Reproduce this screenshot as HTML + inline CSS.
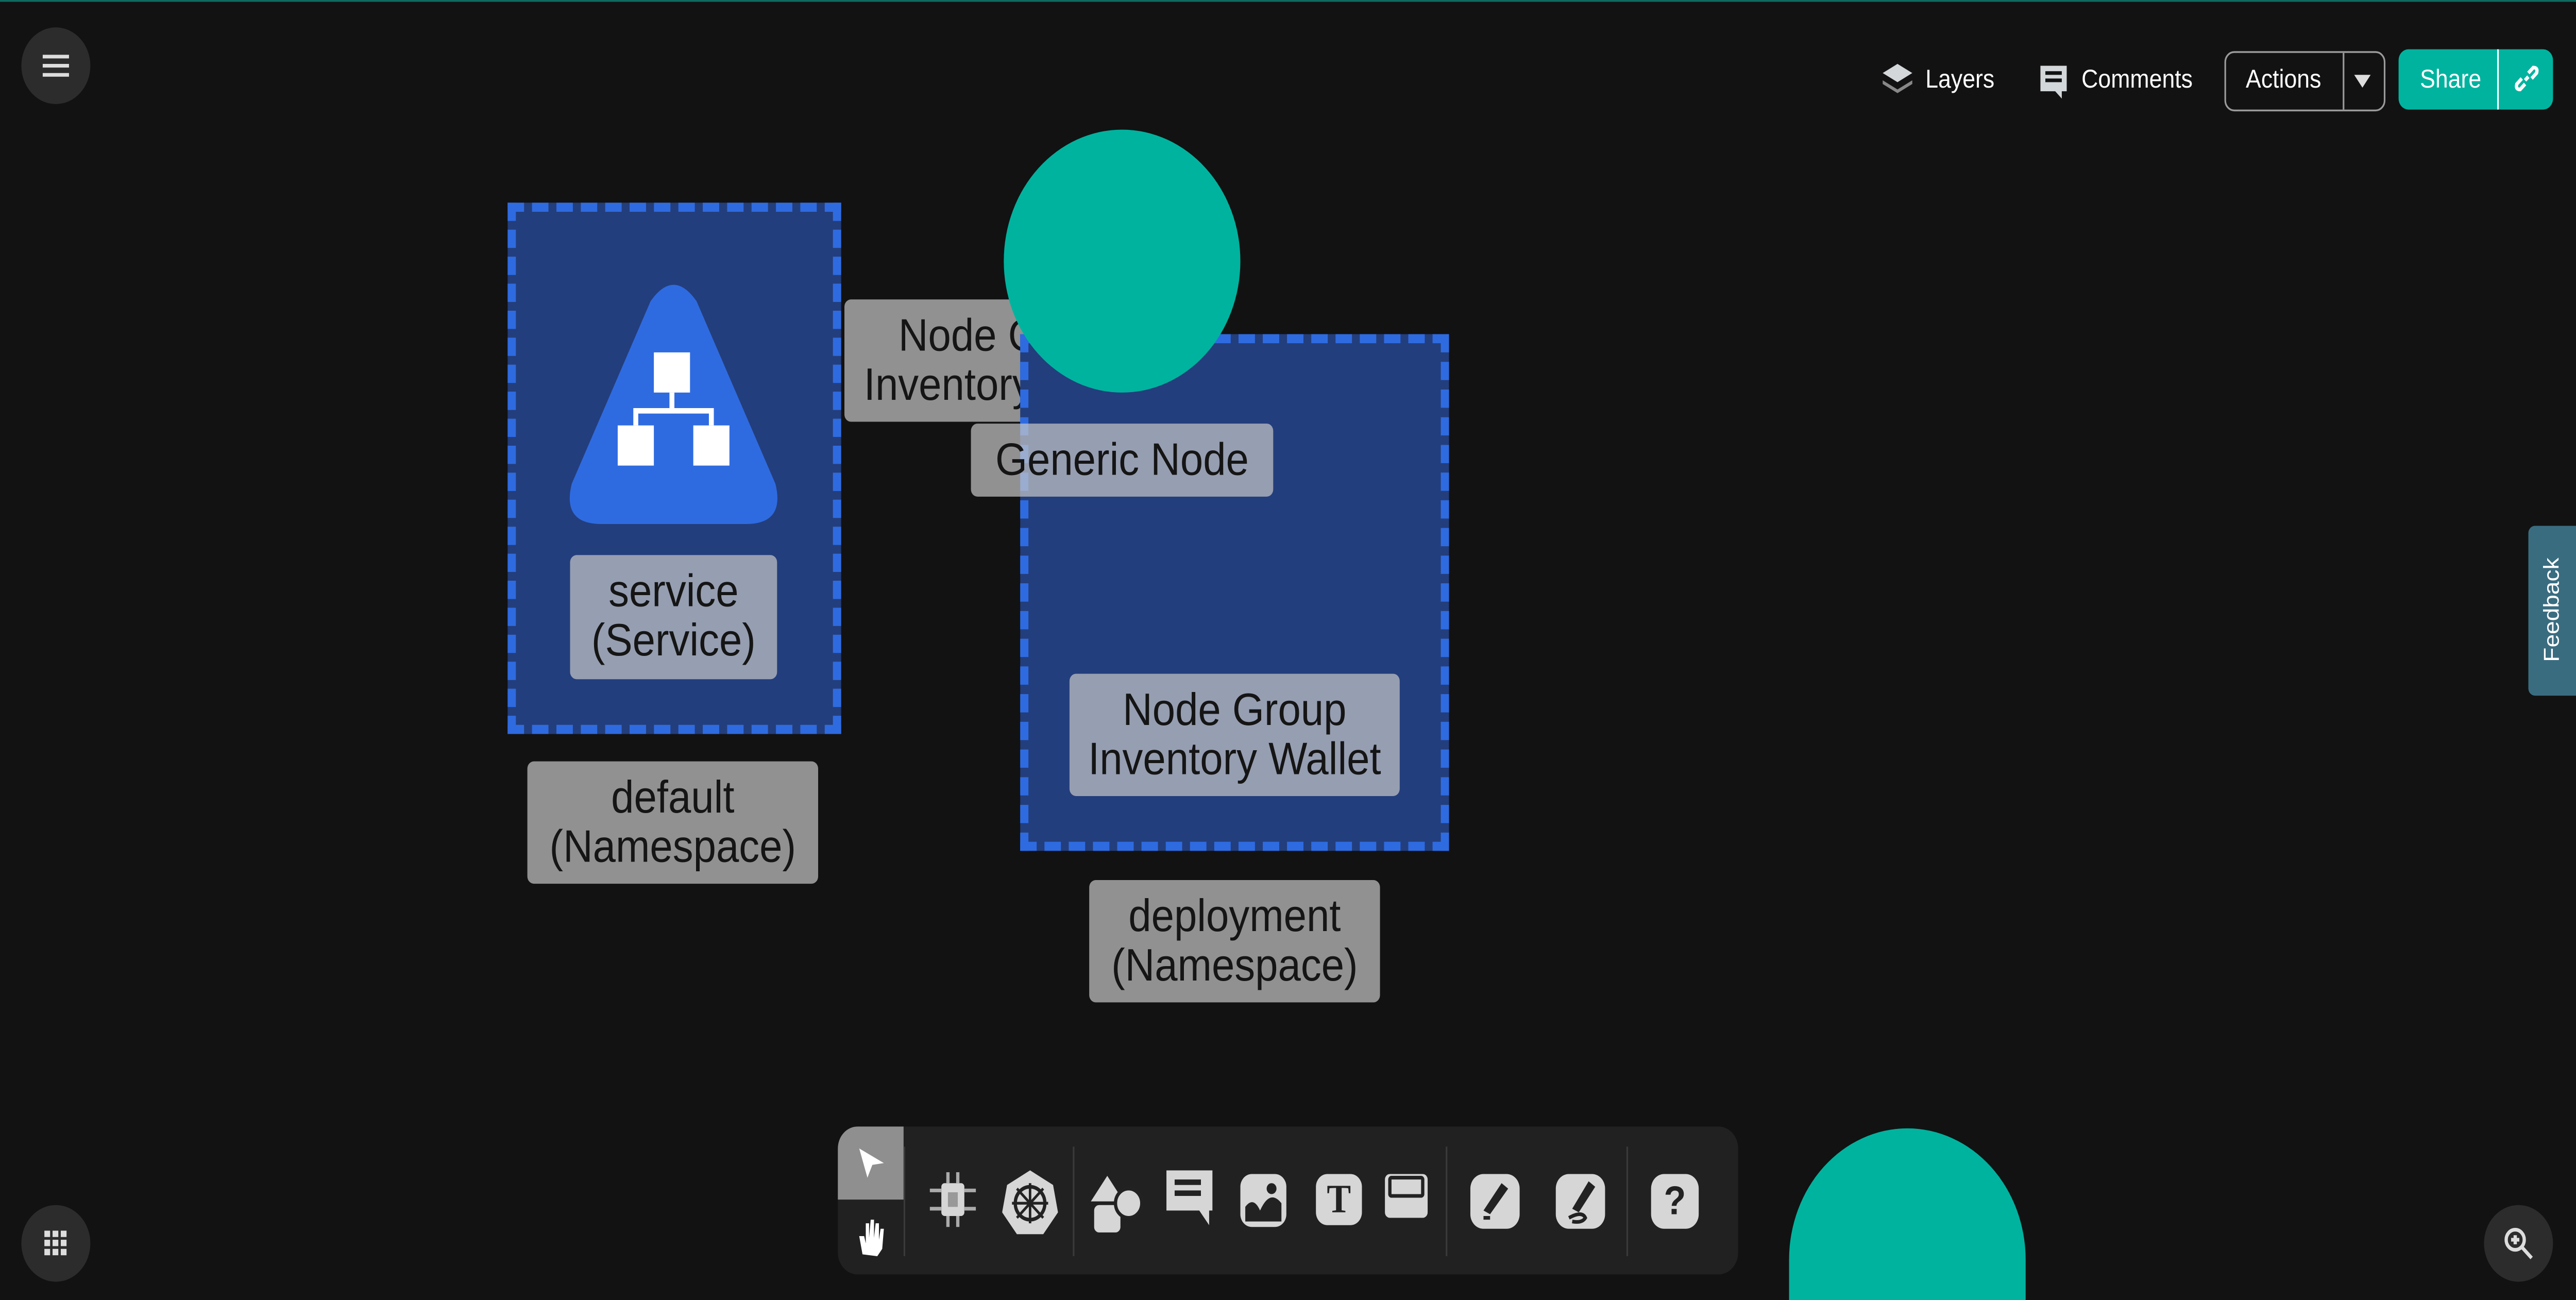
<!DOCTYPE html>
<html><head><meta charset="utf-8"><style>
html,body{margin:0;padding:0;background:#121212;overflow:hidden;width:100%;height:100%}
#wrap{width:1568px;height:712px;position:absolute;left:0;top:0;transform:scale(3.5434);transform-origin:0 0;font-family:"Liberation Sans",sans-serif;background:#121212;overflow:hidden}
.a{position:absolute}
.lbl{position:absolute;background:rgba(200,200,200,0.7);color:#151515;font-size:25px;line-height:27px;text-align:center;border-radius:4px;display:flex;align-items:center;justify-content:center}
.box{position:absolute;background:#233e7c;border:5px dashed #2f6be0;box-sizing:border-box}
.circ{position:absolute;border-radius:50%}
.tb{color:#fff;font-size:14px}
</style></head><body><div id="wrap">
<div class="a" style="left:0;top:0;width:1568px;height:1px;background:#0e6b5e"></div>
<div class="circ" style="left:13px;top:15px;width:42px;height:42px;background:#2c2c2c"></div>
<div class="a" style="left:26px;top:30px;width:16px;height:2px;background:#ddd;box-shadow:0 5px 0 #ddd,0 10px 0 #ddd"></div>

<svg class="a" style="left:1145px;top:34px" width="20" height="20" viewBox="0 0 20 20"><path d="M10 1 L19 6 L10 11 L1 6Z" fill="#d3d7da"/><path d="M1 10 L10 15 L19 10 L19 12 L10 17 L1 12Z" fill="#888"/></svg>
<div class="a tb" style="left:1172px;top:35px">Layers</div>
<svg class="a" style="left:1241px;top:35px" width="18" height="20" viewBox="0 0 18 20"><path d="M1 1H17V15H14V19L10 15H1Z" fill="#d3d7da"/><rect x="4" y="4" width="10" height="2" fill="#121212"/><rect x="4" y="8" width="10" height="2" fill="#121212"/></svg>
<div class="a tb" style="left:1267px;top:35px">Comments</div>
<div class="a" style="left:1354px;top:28px;width:96px;height:31px;border:1px solid #9a9a9a;border-radius:6px"></div>
<div class="a" style="left:1426px;top:29px;width:1px;height:31px;background:#9a9a9a"></div>
<div class="a tb" style="left:1367px;top:35px">Actions</div>
<div class="a" style="left:1433px;top:41px;width:0;height:0;border-left:5px solid transparent;border-right:5px solid transparent;border-top:7px solid #ddd"></div>
<div class="a" style="left:1460px;top:27px;width:94px;height:33px;background:#00b39f;border-radius:6px"></div>
<div class="a" style="left:1520px;top:27px;width:1px;height:33px;background:#fff"></div>
<div class="a tb" style="left:1473px;top:35px">Share</div>
<svg class="a" style="left:1529px;top:34px" width="18" height="18"><path d="M8 10 L10 8 M6 9 L3 12 Q2 15 5 15 L8 12 M12 9 L15 6 Q16 3 13 3 L10 6" stroke="#fff" stroke-width="2" fill="none"/></svg>

<div class="box" style="left:309px;top:111px;width:203px;height:291px"></div>
<svg class="a" style="left:342px;top:153px" width="136" height="136" viewBox="0 0 136 136"><path d="M54 12 Q68 -6 82 12 L130 112 Q136 134 112 134 L24 134 Q0 134 6 112Z" fill="#2f6be0"/><rect x="56" y="40" width="22" height="22" fill="#fff"/><rect x="34" y="80" width="22" height="22" fill="#fff"/><rect x="80" y="80" width="22" height="22" fill="#fff"/><path d="M67 62V72M45 80V72H91V80" stroke="#fff" stroke-width="3" fill="none"/></svg>
<div class="lbl" style="left:347px;top:304px;width:126px;height:68px">service<br>(Service)</div>
<div class="lbl" style="left:321px;top:417px;width:177px;height:67px">default<br>(Namespace)</div>

<div class="lbl" style="left:514px;top:164px;width:202px;height:67px">Node Group<br>Inventory Wallet</div>
<div class="box" style="left:621px;top:183px;width:261px;height:283px"></div>
<div class="circ" style="left:611px;top:71px;width:144px;height:144px;background:#00b39f"></div>
<div class="lbl" style="left:591px;top:232px;width:184px;height:40px">Generic Node</div>
<div class="lbl" style="left:651px;top:369px;width:201px;height:67px">Node Group<br>Inventory Wallet</div>
<div class="lbl" style="left:663px;top:482px;width:177px;height:67px">deployment<br>(Namespace)</div>

<div class="a" style="left:1539px;top:288px;width:29px;height:93px;background:#3a6c80;border-radius:4px 0 0 4px"></div>
<div class="a" style="left:1553px;top:334px;transform:translate(-50%,-50%) rotate(-90deg);color:#fff;font-size:13px;white-space:nowrap">Feedback</div>

<div class="a" style="left:510px;top:617px;width:548px;height:81px;background:#212121;border-radius:12px"></div>
<div class="a" style="left:510px;top:617px;width:40px;height:40px;background:#8f8f8f;border-radius:12px 0 0 0"></div>
<div class="a" style="left:550px;top:628px;width:1px;height:60px;background:#3a3a3a"></div>
<div class="a" style="left:653px;top:628px;width:1px;height:60px;background:#3a3a3a"></div>
<div class="a" style="left:880px;top:628px;width:1px;height:60px;background:#3a3a3a"></div>
<div class="a" style="left:990px;top:628px;width:1px;height:60px;background:#3a3a3a"></div>
<svg class="a" style="left:520px;top:627px" width="20" height="20"><path d="M3 2 L18 10 L11 11 L8 18Z" fill="#fff"/></svg>
<svg class="a" style="left:520px;top:667px" width="20" height="22"><path d="M5 20 L3 10 L6 10 L7 14 L7 3 L9 3 L9 11 L10 1 L12 1 L12 11 L13 3 L15 3 L15 12 L16 6 L18 6 L17 17 L14 21Z" fill="#fff"/></svg>
<svg class="a" style="left:563px;top:640px" width="34" height="34"><rect x="10" y="8" width="14" height="18" rx="2" fill="#d6d6d6"/><rect x="14" y="13" width="6" height="8" fill="#999"/><path d="M10 12H3M10 22H3M24 12H31M24 22H31M14 8V2M20 8V2M14 26V32M20 26V32" stroke="#aaa" stroke-width="2"/></svg>
<svg class="a" style="left:610px;top:640px" width="34" height="36"><path d="M17 1 L31 9 L34 24 L25 36 L9 36 L0 24 L3 9Z" fill="#d6d6d6"/><circle cx="17" cy="19" r="9" stroke="#222" stroke-width="2" fill="none"/><path d="M17 8V30M6 19H28M9 11L25 27M25 11L9 27" stroke="#222" stroke-width="1.5"/></svg>
<svg class="a" style="left:664px;top:642px" width="32" height="34"><path d="M10 2 L20 16 L0 16Z" fill="#d6d6d6"/><rect x="2" y="18" width="16" height="15" rx="3" fill="#d6d6d6"/><circle cx="23" cy="17" r="8" fill="#d6d6d6" stroke="#222" stroke-width="2"/></svg>
<svg class="a" style="left:710px;top:641px" width="30" height="30"><path d="M0 0H28V22H26V30L20 22H0Z" fill="#d6d6d6"/><rect x="5" y="5" width="16" height="3" fill="#222"/><rect x="5" y="11" width="16" height="3" fill="#222"/></svg>
<div class="a" style="left:755px;top:643px;width:28px;height:29px;background:#d6d6d6;border-radius:7px"></div>
<svg class="a" style="left:755px;top:643px" width="28" height="29"><path d="M3 26 L3 18 Q8 12 12 20 Q18 8 25 16 L25 26Z" fill="#222"/><circle cx="19" cy="8" r="3" fill="#222"/></svg>
<div class="a" style="left:801px;top:643px;width:28px;height:28px;background:#d6d6d6;border-radius:7px;color:#222;font:bold 22px 'Liberation Serif',serif;text-align:center;line-height:28px">T</div>
<div class="a" style="left:843px;top:643px;width:26px;height:24px;background:#d6d6d6;border-radius:3px"></div>
<div class="a" style="left:845px;top:644px;width:18px;height:8px;border:2px solid #222;border-radius:2px"></div>
<div class="a" style="left:895px;top:643px;width:30px;height:30px;background:#d6d6d6;border-radius:8px"></div>
<svg class="a" style="left:895px;top:643px" width="30" height="30"><path d="M19 5 L23 8 L12 22 L8 20Z" fill="#222"/><path d="M8 24 L12 24" stroke="#222" stroke-width="2"/></svg>
<div class="a" style="left:947px;top:643px;width:30px;height:30px;background:#d6d6d6;border-radius:8px"></div>
<svg class="a" style="left:947px;top:643px" width="30" height="30"><path d="M20 4 L24 7 L14 21 L10 19Z" fill="#222"/><path d="M8 24 Q16 20 18 24 Q16 27 10 26" stroke="#222" stroke-width="2" fill="none"/></svg>
<div class="a" style="left:1005px;top:643px;width:29px;height:30px;background:#d6d6d6;border-radius:8px;color:#222;font:bold 22px 'Liberation Sans',sans-serif;text-align:center;line-height:30px">?</div>

<div class="circ" style="left:1089px;top:618px;width:144px;height:94px;border-radius:72px 72px 0 0;background:#00b39f"></div>
<div class="circ" style="left:13px;top:660px;width:42px;height:42px;background:#2c2c2c"></div>
<svg class="a" style="left:27px;top:674px" width="14" height="14"><g fill="#ddd"><rect x="0" y="0" width="3.5" height="3.5"/><rect x="5" y="0" width="3.5" height="3.5"/><rect x="10" y="0" width="3.5" height="3.5"/><rect x="0" y="5" width="3.5" height="3.5"/><rect x="5" y="5" width="3.5" height="3.5"/><rect x="10" y="5" width="3.5" height="3.5"/><rect x="0" y="10" width="3.5" height="3.5"/><rect x="5" y="10" width="3.5" height="3.5"/><rect x="10" y="10" width="3.5" height="3.5"/></g></svg>
<div class="circ" style="left:1512px;top:660px;width:42px;height:42px;background:#2c2c2c"></div>
<svg class="a" style="left:1524px;top:672px" width="18" height="18"><circle cx="7" cy="7" r="5.5" stroke="#ddd" stroke-width="2" fill="none"/><path d="M11 11L17 17M4.5 7H9.5M7 4.5V9.5" stroke="#ddd" stroke-width="2"/></svg>
</div>
<script>
(function(){function f(){var w=window.innerWidth||document.documentElement.clientWidth,h=window.innerHeight||document.documentElement.clientHeight;if(w>0&&h>0){document.getElementById('wrap').style.transform='scale('+(w/1568)+','+(h/712)+')';}}f();window.addEventListener('resize',f);})();
</script>
</body></html>
